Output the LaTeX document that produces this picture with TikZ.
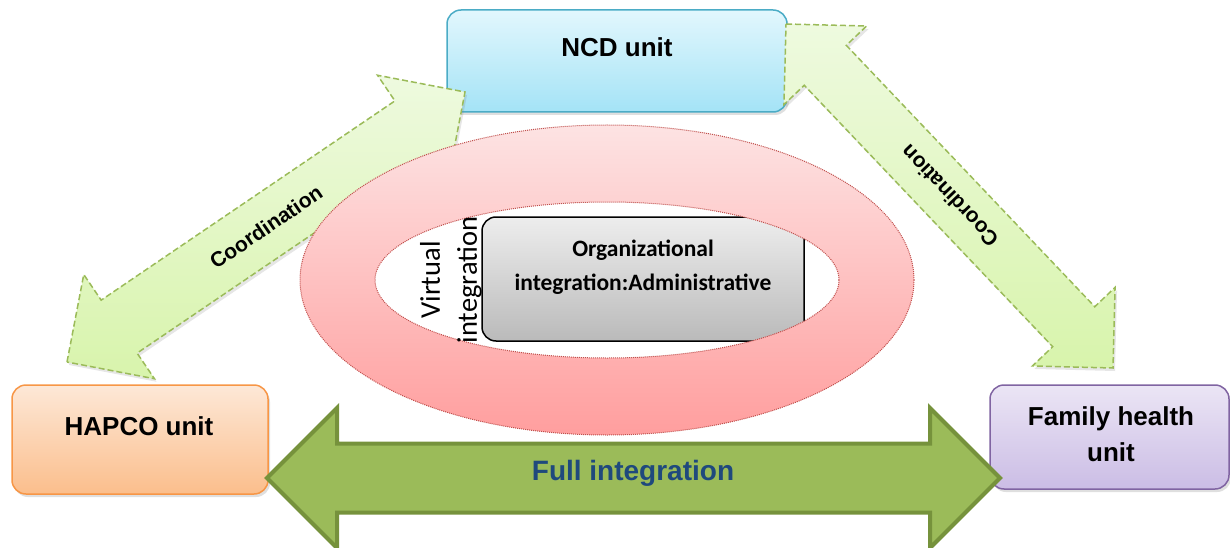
\documentclass[tikz,border=0pt]{standalone}
\usepackage{fontspec}
\setmainfont{Liberation Sans}
\newfontfamily\carlito{Carlito}
\usepackage{xcolor}
\usepackage{tikz}
\usetikzlibrary{calc}
\usetikzlibrary{shadows}

\definecolor{ncdline}{HTML}{4BACC6}
\definecolor{ncdtop}{HTML}{E2F7FD}
\definecolor{ncdbot}{HTML}{A4E3F6}
\definecolor{hapcoline}{HTML}{F79646}
\definecolor{hapcotop}{HTML}{FDE8D7}
\definecolor{hapcobot}{HTML}{FBBE8C}
\definecolor{famline}{HTML}{8064A2}
\definecolor{famtop}{HTML}{EBE5F5}
\definecolor{fambot}{HTML}{CBBDE5}
\definecolor{coordline}{HTML}{9BBB59}
\definecolor{coordtop}{HTML}{EEFADF}
\definecolor{coordbot}{HTML}{D8F4AC}
\definecolor{ringline}{HTML}{C0504D}
\definecolor{ringtop}{HTML}{FDE3E3}
\definecolor{ringbot}{HTML}{FF9E9E}
\definecolor{fullfill}{HTML}{9BBB59}
\definecolor{fullline}{HTML}{76923C}
\definecolor{fulltext}{HTML}{1F497D}

\tikzset{
  unitbox/.style={rectangle,rounded corners=14pt,line width=1.5pt,
    drop shadow={shadow xshift=2pt,shadow yshift=-3pt,opacity=0.25}},
  unitlabel/.style={font=\bfseries\fontsize{26}{36}\selectfont,align=center},
  coordarrow/.style={draw=coordline,line width=1.5pt,dash pattern=on 6pt off 3pt,
    top color=coordtop,bottom color=coordbot,
    drop shadow={shadow xshift=2pt,shadow yshift=-3pt,opacity=0.2}},
  coordlabel/.style={font=\bfseries\fontsize{21}{24}\selectfont},
}

% block arrow with two heads: tip a, tip b, head size, half shaft width
\newcommand{\blockarrow}[5]{%
  \coordinate (ba) at ($(#2)!#4!(#3)$);
  \coordinate (bb) at ($(#3)!#4!(#2)$);
  \path[#1] (#2) -- ($(ba)!#4!90:(#3)$) -- ($(ba)!#5!90:(#3)$)
    -- ($(bb)!#5!-90:(#2)$) -- ($(bb)!#4!-90:(#2)$) -- (#3)
    -- ($(bb)!#4!90:(#2)$) -- ($(bb)!#5!90:(#2)$)
    -- ($(ba)!#5!-90:(#3)$) -- ($(ba)!#4!-90:(#3)$) -- cycle;
}

\begin{document}
\begin{tikzpicture}[x=1pt,y=-1pt]
\useasboundingbox (0,0) rectangle (1230,548);

% units
\node[unitbox,draw=ncdline,top color=ncdtop,bottom color=ncdbot,
  minimum width=340pt,minimum height=102pt] (ncd) at (617,61) {};
\node[unitbox,draw=hapcoline,top color=hapcotop,bottom color=hapcobot,
  minimum width=256pt,minimum height=109pt] (hapco) at (140,439.5) {};
\node[unitbox,draw=famline,top color=famtop,bottom color=fambot,
  minimum width=239pt,minimum height=104pt] (family) at (1109.5,437) {};
\node[unitlabel] (ncd text) at (617,47) {NCD unit};
\node[unitlabel] (hapco text) at (139,426) {HAPCO unit};
\node[unitlabel] (family text) at (1111,434) {Family health\\unit};

% coordination arrows
\coordinate (hapco tip) at (67,362);
\coordinate (ncd tip a) at (465,92);
\coordinate (ncd tip b) at (786,24);
\coordinate (family tip) at (1113,368);
\blockarrow{coordarrow}{hapco tip}{ncd tip a}{63pt}{32pt}
\blockarrow{coordarrow}{ncd tip b}{family tip}{57pt}{29pt}
\node[coordlabel,rotate=34.2] (coord a) at ($(hapco tip)!0.5!(ncd tip a)$) {Coordination};
\node[coordlabel,rotate=133.6] (coord b) at ($(ncd tip b)!0.5!(family tip)$) {Coordination};

% organizational box
\node[rectangle,rounded corners=14pt,draw=black,line width=1.5pt,
  top color=black!7,bottom color=black!27,
  minimum width=322pt,minimum height=124pt] (admin) at (643,279) {};
\node[font=\carlito\bfseries\fontsize{23.5}{34}\selectfont,align=center]
  (admin text) at (643,267) {Organizational\\integration:Administrative};

% virtual integration ring
\shade[even odd rule,top color=ringtop,bottom color=ringbot]
  (607,280) ellipse [x radius=307,y radius=155]
  (607,280) ellipse [x radius=232,y radius=78];
\draw[ringline,line width=1pt,dash pattern=on 1pt off 1pt]
  (607,280) ellipse [x radius=307,y radius=155]
  (607,280) ellipse [x radius=232,y radius=78];
\node[font=\carlito\fontsize{28.5}{37}\selectfont,align=center,rotate=90]
  (virtual) at (451,280) {Virtual\\integration};

% full integration
\coordinate (full a) at (267,478);
\coordinate (full b) at (1000,478);
\blockarrow{fill=fullfill,draw=fullline,line width=4pt,line join=miter}{full a}{full b}{70pt}{34.5pt}
\node[font=\bfseries\fontsize{28}{32}\selectfont,text=fulltext] (full text) at (633,473) {Full integration};
\end{tikzpicture}
\end{document}
